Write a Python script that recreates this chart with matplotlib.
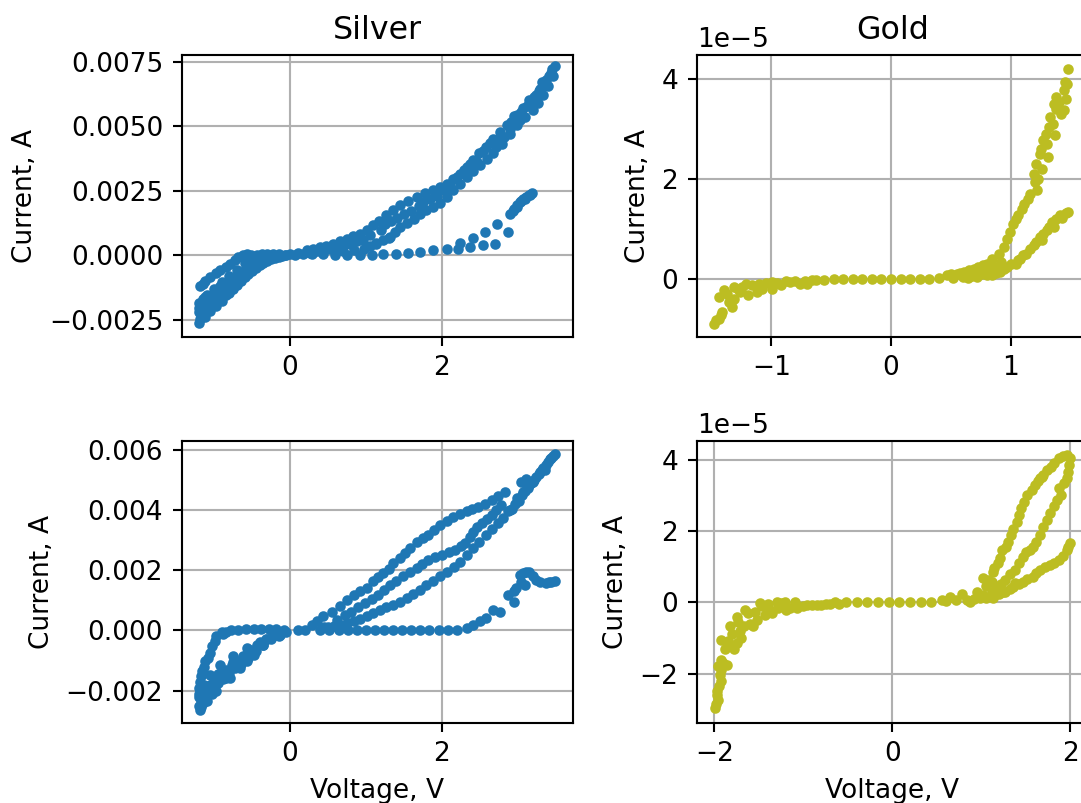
import matplotlib
matplotlib.use('Agg')
import matplotlib.pyplot as plt
import numpy as np

#------------ silver, sweep 1 (current in mA) ------------
ag1_v = [3.49, 3.44, 3.38, 3.30, 3.22, 3.16, 3.08, 3.00, 2.95, 2.86, 2.77, 2.68, 2.59, 2.50, 2.42,
         2.33, 2.24, 2.15, 2.07, 1.98, 1.89, 1.78, 1.67, 1.56, 1.45, 1.36, 1.27, 1.18, 1.10, 1.01,
         0.92, 0.83, 0.75, 0.66, 0.57, 0.48, 0.40, 0.31, 0.22, 0.11, 0.00,
         3.47, 3.40, 3.34, 3.27, 3.21, 3.10, 2.99, 2.90, 2.80, 2.68, 2.60, 2.51, 2.42, 2.33, 2.24,
         2.15, 2.07, 1.98, 1.89, 1.80, 1.72, 1.63, 1.54, 1.45, 1.38, 1.32, 1.23, 1.14, 1.05, 0.97,
         0.85, 0.70, 1.14, 1.30,
         3.46, 3.42, 3.36, 3.33, 3.28, 3.25, 3.18, 3.13, 3.05, 3.03, 2.97, 2.92, 2.90, 2.83, 2.74,
         2.72, 2.64, 2.55, 2.47, 2.38, 2.29, 2.20, 2.11, 2.03, 1.94, 1.85, 1.75, 1.70, 1.60, 1.50,
         1.41, 1.33, 1.25, 1.20, 1.06, 0.96, 0.88, 0.79, 0.70, 0.62, 0.53, 0.45, 0.36, 0.27, 0.17,
         0.06,
         3.19, 3.15, 3.12, 3.08, 3.03, 2.99, 2.94, 2.90, 2.88, 2.73, 2.70, 2.57, 2.55, 2.41, 2.38,
         2.24, 2.22, 2.07, 1.89, 1.71, 1.56, 1.40, 1.23, 1.08, 0.92, 0.75, 0.59, 0.44, 0.29,
         3.17, 3.10, 3.05, 3.00, 2.96,
         -0.07, -0.15, -0.22, -0.30, -0.37, -0.44, -0.51, -0.57, -0.68, -0.79, -0.92, -1.05, -1.19,
         -1.12, -0.98, -0.85, -0.73, -0.62, -1.15,
         -1.20, -1.12, -1.05, -0.97, -0.90, -0.80, -0.70, -0.60, -0.50, -0.40, -0.30, -0.20, -0.10,
         -1.20, -1.20, -1.15, -1.10, -1.00, -0.90, -0.80, -0.70, -0.60, -0.50, -0.40, -0.30,
         -1.18, -1.10, -1.00, -0.90, -0.80, -0.70, -0.60, -0.50, -0.40, -0.30, -0.20,
         -1.16, -1.08, -1.02, -0.95, -0.85, -0.75, -0.65, -0.55, -0.45, -0.35,
         -1.19, -1.17, -1.20, -1.14, -1.08, -1.12, -1.04, -0.98, -0.95, -0.93, -0.85, -0.85, -0.75,
         -0.75, -0.65, -0.65, -0.55, -0.55, -0.45, -0.45, -0.35, -0.35, -0.25, -0.25, -0.15, -0.15,
         -0.05]
ag1_i = [7.32, 7.05, 6.80, 6.45, 6.15, 6.02, 5.70, 5.45, 5.38, 5.05, 4.79, 4.50, 4.21, 3.95, 3.69,
         3.42, 3.17, 2.95, 2.78, 2.65, 2.53, 2.40, 2.27, 2.10, 1.94, 1.75, 1.55, 1.35, 1.17, 1.00,
         0.84, 0.74, 0.65, 0.55, 0.45, 0.38, 0.32, 0.25, 0.19, 0.10, 0.04,
         6.93, 6.55, 6.20, 5.90, 5.63, 5.35, 5.05, 4.70, 4.30, 3.95, 3.72, 3.50, 3.27, 3.04, 2.78,
         2.53, 2.27, 2.01, 1.88, 1.75, 1.60, 1.42, 1.26, 1.10, 0.90, 0.71, 0.58, 0.45, 0.35, 0.26,
         0.20, 0.15, 0.48, 0.69,
         7.20, 6.95, 6.60, 6.70, 6.35, 6.20, 5.95, 5.80, 5.55, 5.25, 5.20, 5.15, 4.90, 4.60, 4.50,
         4.20, 4.35, 4.05, 3.60, 3.55, 3.30, 3.05, 2.70, 2.55, 2.30, 2.20, 2.05, 1.90, 1.70, 1.60,
         1.45, 1.35, 1.20, 1.00, 0.80, 0.60, 0.55, 0.45, 0.38, 0.30, 0.25, 0.20, 0.15, 0.10, 0.06,
         0.02,
         2.40, 2.32, 2.27, 2.18, 2.07, 1.88, 1.72, 1.62, 0.91, 1.23, 0.45, 0.91, 0.39, 0.69, 0.32,
         0.48, 0.26, 0.26, 0.19, 0.13, 0.10, 0.06, 0.04, 0.00, 0.00, 0.00, 0.03, 0.04, 0.04,
         2.35, 2.20, 2.12, 1.95, 1.80,
         0.03, 0.05, 0.05, 0.05, 0.04, 0.03, 0.02, 0.05, -0.06, -0.32, -0.58, -0.84, -1.17,
         -1.00, -0.70, -0.45, -0.18, 0.00, -1.10,
         -2.62, -2.40, -2.15, -1.95, -1.75, -1.45, -1.15, -0.85, -0.60, -0.38, -0.22, -0.10, -0.03,
         -2.20, -1.85, -1.70, -1.55, -1.30, -1.05, -0.80, -0.55, -0.30, -0.15, -0.05, 0.00,
         -2.00, -1.80, -1.55, -1.30, -1.05, -0.80, -0.55, -0.35, -0.20, -0.10, -0.05,
         -2.35, -2.10, -1.85, -1.60, -1.30, -1.00, -0.72, -0.48, -0.28, -0.14,
         -2.45, -2.30, -2.05, -2.20, -1.95, -1.60, -1.70, -1.45, -1.70, -1.20, -1.20, -1.55, -0.95,
         -1.30, -0.70, -1.00, -0.45, -0.72, -0.25, -0.50, -0.12, -0.30, -0.05, -0.16, -0.02, -0.07,
         0.00]

#------------ gold, sweep 1 (current in 1e-5 A) ------------
au1_v = [-1.48, -1.44, -1.41, -1.44, -1.39, -1.33, -1.31, -1.31, -1.26, -1.21, -1.19, -1.12, -1.08,
         -0.99, -0.99, -0.92, -0.84, -0.76, -0.70, -0.63,
         -1.46, -1.42, -1.37, -1.35, -1.28, -1.24, -1.16, -1.10, -1.04, -0.95, -0.88, -0.80, -0.72,
         -0.66,
         -0.56, -0.48, -0.40, -0.32, -0.24, -0.16, -0.08, 0.00, 0.08, 0.16, 0.24, 0.32, 0.40,
         0.47, 0.55, 0.61, 0.69, 0.77, 0.84, 0.87, 0.84, 0.94, 0.99, 1.06, 1.11, 1.16, 1.22, 1.19,
         1.23, 1.24, 1.27, 1.31, 1.29, 1.37, 1.33, 1.38, 1.44, 1.44, 1.47, 1.48, 1.38,
         0.50, 0.58, 0.65, 0.73, 0.80, 0.72, 0.78, 0.90, 0.92, 0.97, 1.02, 1.04, 1.09, 1.14, 1.20,
         1.21, 1.25, 1.26, 1.30, 1.32, 1.35, 1.36, 1.40, 1.42, 1.45, 1.46,
         1.48, 1.41, 1.34, 1.30, 1.24, 1.19, 1.13, 1.08, 1.04, 0.97, 0.91, 0.80, 0.72, 0.64,
         1.46, 1.43, 1.38, 1.36, 1.32, 1.27, 1.26, 1.21, 1.16, 1.10, 1.06, 1.00, 0.94, 0.88, 0.84,
         0.76, 0.68, 0.60, 0.52]
au1_i = [-0.89, -0.79, -0.65, -0.35, -0.22, -0.55, -0.39, -0.15, -0.25, -0.09, -0.32, -0.25, -0.19,
         -0.05, -0.19, -0.12, -0.05, -0.09, -0.09, -0.02,
         -0.82, -0.72, -0.30, -0.45, -0.20, -0.15, -0.12, -0.10, -0.08, -0.08, -0.04, -0.03, -0.03,
         -0.02,
         -0.01, 0.00, 0.00, 0.00, 0.00, 0.00, 0.00, 0.00, 0.00, 0.00, 0.01, 0.01, 0.02,
         0.08, 0.11, 0.15, 0.21, 0.28, 0.41, 0.25, 0.08, 0.65, 0.95, 1.28, 1.51, 1.71, 1.78, 2.11,
         2.01, 2.51, 2.78, 2.45, 2.91, 2.88, 3.25, 3.65, 3.38, 3.78, 3.91, 4.21, 3.41,
         0.10, 0.12, 0.18, 0.24, 0.30, 0.12, 0.15, 0.50, 0.35, 0.80, 1.10, 1.20, 1.40, 1.60, 1.95,
         2.30, 2.60, 2.20, 2.70, 3.05, 3.10, 3.50, 3.55, 3.30, 3.95, 3.60,
         1.35, 1.28, 1.15, 0.98, 0.85, 0.68, 0.51, 0.41, 0.31, 0.25, 0.15, 0.08, 0.05, 0.03,
         1.32, 1.22, 1.20, 1.05, 1.05, 0.90, 0.78, 0.75, 0.60, 0.48, 0.38, 0.30, 0.20, 0.12, 0.18,
         0.10, 0.07, 0.05, 0.03]

#------------ silver, sweep 2 (current in mA) ------------
ag2_v = [3.49, 3.45, 3.41, 3.34, 3.30, 3.25, 3.20, 3.16, 3.08, 2.99, 2.90, 3.05, 3.12,
         3.47, 3.43, 3.38, 3.36, 3.32, 3.28, 3.22, 3.18, 3.14, 3.10, 3.06, 3.02, 2.97, 2.93,
         2.84, 2.66, 2.48, 2.33, 2.15, 1.98, 1.82, 1.67, 1.58, 1.45, 1.36, 1.23, 1.10, 1.01, 0.84,
         0.66, 0.44, 0.29,
         2.75, 2.57, 2.40, 2.24, 2.07, 1.90, 1.75, 1.52, 1.30, 1.16, 0.93, 0.75, 0.55, 0.36,
         2.79, 2.66, 2.53, 2.42, 2.31, 2.18, 2.00, 1.82, 1.67, 1.49, 1.32, 1.16, 0.99, 0.81, 0.62,
         2.72, 2.60, 2.47, 2.37, 2.25, 2.10, 1.91, 1.74, 1.58, 1.40, 1.24, 1.08, 0.90, 0.72,
         2.88, 2.75, 2.59, 2.42, 2.24, 2.07, 1.89, 1.71, 1.54, 1.36, 1.19, 1.01, 0.84, 0.66, 0.50,
         2.81, 2.67, 2.50, 2.33, 2.16, 1.98, 1.80, 1.62, 1.45, 1.27, 1.10, 0.92, 0.75, 0.58, 0.45,
         3.49, 3.38, 3.25, 3.12, 3.03, 3.10, 2.95, 2.88, 2.95, 2.77, 2.68, 2.59, 2.51, 2.42, 2.33,
         3.45, 3.42, 3.30, 3.20, 3.16, 3.07, 3.05, 2.98,
         2.20, 2.08, 1.96, 1.84, 1.72, 1.60, 1.48, 1.36, 1.24, 1.12, 1.00, 0.88, 0.76, 0.64, 0.52,
         0.40, 0.20, 0.10,
         -0.08, -0.18, -0.28, -0.38, -0.48, -0.58, -0.68, -0.78, -0.84, -0.97, -1.03, -1.12, -1.16,
         -1.19, -0.90, -0.88, -0.99, -1.06, -1.08, -1.14, -1.18,
         -0.13, -0.35, -0.57, -0.79, -0.97, -1.10, -1.19,
         -0.22, -0.40, -0.57, -0.75, -0.92, -1.05, -1.14, -1.20,
         -0.48, -0.66, -0.84, -1.00, -1.15, -0.30, -0.55, -0.75, -0.95, -1.10, -1.18,
         -1.20, -1.18, -1.15, -1.12, -1.08, -1.05, -1.03, -1.00, -0.95, -0.93, -0.88, -0.85, -0.80,
         -0.77, -0.72, -0.70, -0.65, -0.62, -0.55, -0.52, -0.45, -0.43, -0.35, -0.32, -0.25, -0.20,
         -0.15, -0.10, -0.05, -1.20, -1.20, -1.17, -1.17]
ag2_i = [5.89, 5.75, 5.62, 5.40, 5.29, 5.10, 4.95, 4.84, 4.62, 4.40, 4.01, 4.95, 5.05,
         5.80, 5.70, 5.50, 5.35, 5.35, 5.20, 5.00, 4.90, 4.75, 4.65, 4.50, 4.30, 4.20, 4.05,
         4.62, 4.34, 4.12, 3.96, 3.79, 3.51, 3.18, 2.96, 2.74, 2.40, 2.24, 1.91, 1.63, 1.41, 1.19,
         0.80, 0.47, 0.19,
         4.48, 4.20, 4.05, 3.88, 3.65, 3.35, 3.08, 2.57, 2.05, 1.78, 1.30, 1.00, 0.62, 0.33,
         4.18, 3.84, 3.57, 3.29, 2.90, 2.68, 2.52, 2.35, 2.07, 1.80, 1.52, 1.19, 0.91, 0.63, 0.35,
         4.00, 3.70, 3.43, 3.10, 2.80, 2.60, 2.45, 2.20, 1.93, 1.65, 1.35, 1.05, 0.77, 0.50,
         3.96, 3.57, 3.18, 2.74, 2.29, 1.96, 1.63, 1.35, 1.07, 0.85, 0.69, 0.47, 0.30, 0.19, 0.10,
         3.75, 3.38, 2.96, 2.50, 2.12, 1.80, 1.50, 1.20, 0.96, 0.77, 0.58, 0.38, 0.25, 0.15, 0.10,
         1.63, 1.57, 1.68, 1.96, 1.85, 1.52, 1.30, 1.19, 0.96, 0.63, 0.69, 0.41, 0.30, 0.19, 0.08,
         1.60, 1.62, 1.62, 1.82, 1.95, 1.90, 1.60, 1.40,
         0.02, 0.02, 0.02, 0.01, 0.01, 0.01, 0.00, 0.00, 0.00, 0.00, 0.00, 0.00, 0.00, 0.00, 0.00,
         0.01, 0.02, 0.03,
         0.03, 0.05, 0.05, 0.05, 0.05, 0.04, 0.03, 0.01, -0.05, -0.20, -0.53, -1.03, -1.36,
         -1.70, -0.05, -0.12, -0.35, -0.75, -0.90, -1.20, -1.50,
         -0.14, -0.48, -1.03, -1.58, -2.03, -2.36, -2.64,
         -0.14, -0.37, -0.59, -0.86, -1.14, -1.47, -1.81, -2.20,
         -0.81, -1.25, -1.58, -1.85, -2.40, -0.30, -0.70, -1.05, -1.45, -1.90, -2.45,
         -2.50, -2.30, -2.10, -2.25, -2.00, -1.80, -2.10, -1.60, -1.75, -1.45, -1.60, -1.30, -1.40,
         -1.15, -1.25, -1.00, -1.10, -0.85, -0.90, -0.65, -0.70, -0.48, -0.50, -0.30, -0.30, -0.15,
         -0.17, -0.05, -0.05, -2.10, -1.90, -1.80, -2.55]

#------------ gold, sweep 2 (current in 1e-5 A) ------------
au2_v = [-1.99, -1.96, -1.97, -1.92, -1.94, -1.96, -1.86, -1.92, -1.92, -1.82, -1.75, -1.82,
         -1.71, -1.67, -1.75, -1.66, -1.56, -1.54, -1.49, -1.43, -1.37, -1.30, -1.28, -1.21,
         -1.19, -1.09, -1.07, -0.96, -0.85, -0.74, -0.64,
         -1.98, -1.97, -1.95, -1.93, -1.90, -1.88, -1.85, -1.80, -1.78, -1.73, -1.70, -1.62,
         -1.60, -1.52, -1.46, -1.40, -1.35, -1.25, -1.15, -1.00, -0.90, -0.80, -0.70, -0.60,
         -0.52, -0.40, -0.28, -0.16, -0.04, 0.08, 0.20, 0.32, 0.44, 0.56,
         0.65, 0.78, 0.87, 0.95, 1.02, 1.02, 1.12, 1.13, 1.13, 1.19, 1.25, 1.23, 1.30, 1.36, 1.38,
         1.42, 1.45, 1.51, 1.57, 1.66, 1.70, 1.79, 1.88, 1.96,
         1.60, 1.64, 1.68, 1.74, 1.82, 1.92, 1.48, 1.40, 1.34, 1.28, 1.21, 1.15, 1.08, 1.06,
         2.00, 1.98, 1.88, 1.85, 1.77, 1.70, 1.62, 1.55, 1.47, 1.38, 1.27, 1.17,
         1.99, 1.96, 1.93, 1.90, 1.82, 1.74, 1.66, 1.58, 1.50, 1.43, 1.33, 1.22, 1.12,
         2.00, 1.96, 1.87, 1.77, 1.66, 1.58, 1.47, 1.36, 1.27, 1.13, 0.99, 0.84,
         1.98, 1.92, 1.82, 1.72, 1.62, 1.52, 1.42, 1.32, 1.20, 1.06, 0.92, 0.72, 0.60]
au2_i = [-2.97, -2.74, -2.50, -2.22, -2.04, -1.80, -1.76, -1.62, -1.06, -1.24, -1.15, -0.68,
         -0.82, -0.68, -0.40, -0.21, -0.68, -0.26, -0.03, -0.36, -0.21, 0.02, -0.17, 0.02,
         -0.21, 0.02, -0.17, -0.09, -0.07, -0.06, 0.02,
         -2.85, -2.60, -2.35, -1.90, -1.70, -1.30, -1.10, -0.90, -1.30, -0.55, -1.00, -0.30,
         -0.60, -0.50, -0.10, -0.05, -0.30, -0.02, -0.15, -0.10, -0.08, -0.07, -0.05, -0.04,
         0.00, 0.00, 0.00, 0.00, 0.00, 0.00, 0.00, 0.01, 0.01, 0.05,
         0.16, 0.22, 0.02, 0.30, 0.67, 0.21, 0.58, 0.86, 0.16, 1.09, 0.30, 1.47, 1.70, 2.07, 0.53,
         2.45, 2.64, 3.01, 3.15, 3.48, 3.57, 3.80, 4.04, 4.13,
         3.30, 3.40, 3.52, 3.70, 3.90, 4.10, 2.80, 2.25, 1.90, 1.55, 1.25, 0.95, 0.62, 0.45,
         4.04, 3.66, 3.20, 2.87, 2.50, 2.12, 1.70, 1.47, 1.28, 0.91, 0.63, 0.39,
         3.85, 3.50, 3.35, 3.00, 2.70, 2.30, 1.90, 1.55, 1.40, 1.10, 0.78, 0.50, 0.30,
         1.65, 1.47, 1.19, 1.05, 0.91, 0.72, 0.58, 0.44, 0.30, 0.13, 0.11, 0.07,
         1.55, 1.30, 1.10, 1.00, 0.82, 0.65, 0.50, 0.38, 0.22, 0.12, 0.09, 0.05, 0.04]

ag1_i = np.array(ag1_i)*1e-3
ag2_i = np.array(ag2_i)*1e-3
au1_i = np.array(au1_i)*1e-5
au2_i = np.array(au2_i)*1e-5

dpi = 190
fig, axs = plt.subplots(2, 2, figsize=(1081/dpi, 803/dpi), dpi=dpi)
W, H = 1081., 803.
axs[0, 0].set_position([181.7/W, 1-336.7/H, 391/W, 281.7/H])
axs[1, 0].set_position([181.7/W, 1-722.7/H, 391/W, 281.5/H])
axs[0, 1].set_position([696.7/W, 1-336.7/H, 391/W, 281.7/H])
axs[1, 1].set_position([696.7/W, 1-722.7/H, 391/W, 281.5/H])

axs[0, 0].plot(ag1_v, ag1_i, '.', color='C0')
axs[0, 1].plot(au1_v, au1_i, '.', color='C8')
axs[1, 0].plot(ag2_v, ag2_i, '.', color='C0')
axs[1, 1].plot(au2_v, au2_i, '.', color='C8')

axs[0, 0].set_xlim(-1.429, 3.73)
axs[0, 0].set_ylim(-0.00315, 0.00776)
axs[1, 0].set_xlim(-1.429, 3.73)
axs[1, 0].set_ylim(-0.00307, 0.0063)
axs[0, 1].set_xlim(-1.622, 1.642)
axs[0, 1].set_ylim(-1.154e-5, 4.48e-5)
axs[1, 1].set_xlim(-2.198, 2.198)
axs[1, 1].set_ylim(-3.38e-5, 4.52e-5)

axs[0, 0].set_title("Silver")
axs[0, 1].set_title("Gold")
for ax in axs.flat:
    ax.grid(True)
    ax.set_ylabel("Current, A")
for ax in axs[1]:
    ax.set_xlabel("Voltage, V")

fig.savefig("out.png", dpi=dpi)
